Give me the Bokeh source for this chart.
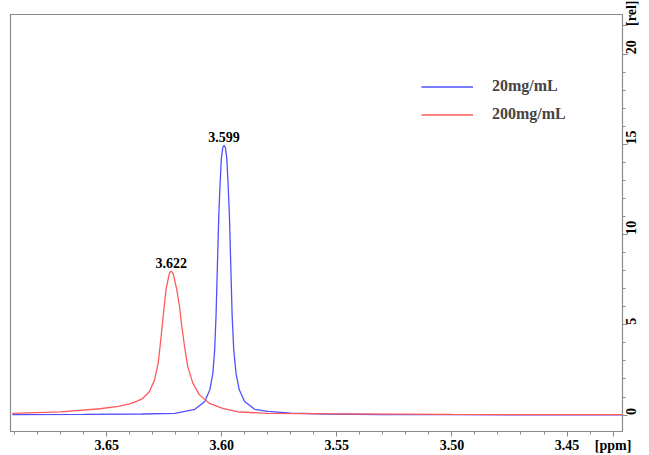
import math
from bokeh.plotting import figure
from bokeh.models import Range1d, FixedTicker, Legend, LegendItem, ColumnDataSource
from bokeh.core.properties import value
from bokeh.embed import file_html
from bokeh.resources import INLINE

# ---- data ----
blue_ppm = [3.691, 3.660, 3.6348, 3.6204, 3.6117, 3.6074, 3.6052, 3.6039, 3.6031, 3.6025,
            3.6019, 3.6013, 3.6007, 3.6002, 3.5996, 3.5990, 3.5984, 3.5978, 3.5973, 3.5967,
            3.5961, 3.5955, 3.5948, 3.5938, 3.5924, 3.5901, 3.5857, 3.580, 3.570, 3.555,
            3.530, 3.500, 3.450, 3.426]
blue_int = [0.02, 0.04, 0.06, 0.10, 0.32, 0.75, 1.4, 2.3, 3.6, 5.5,
            8.3, 11.1, 12.9, 14.2, 14.8, 14.95, 14.8, 14.2, 12.9, 11.1,
            8.3, 5.5, 3.6, 2.3, 1.4, 0.75, 0.32, 0.20, 0.11, 0.06,
            0.03, 0.02, 0.01, 0.01]

red_ppm = [3.691, 3.670, 3.653, 3.645, 3.640, 3.637, 3.6343, 3.6314, 3.6292, 3.6276,
           3.6265, 3.6253, 3.6242, 3.6230, 3.6226, 3.6220, 3.6214, 3.6209, 3.6196, 3.6184,
           3.6174, 3.6162, 3.6148, 3.6126, 3.6097, 3.6054, 3.5996, 3.5924, 3.580, 3.550,
           3.500, 3.450, 3.426]
red_int = [0.10, 0.18, 0.35, 0.48, 0.62, 0.76, 0.93, 1.31, 1.96, 2.89,
           4.19, 5.68, 6.98, 7.73, 7.90, 7.98, 7.90, 7.73, 6.98, 6.06,
           4.94, 3.82, 2.70, 1.77, 1.12, 0.65, 0.37, 0.17, 0.10, 0.07,
           0.04, 0.02, 0.02]

series_names = ["20mg/mL", "200mg/mL"]
peak_ppm = [3.599, 3.622]
peak_int = [14.95, 7.98]
peak_labels = ["3.599", "3.622"]

x_major = [3.65, 3.60, 3.55, 3.50, 3.45, 3.43]
x_labels = ["3.65", "3.60", "3.55", "3.50", "3.45", "[ppm]"]
x_minor = [3.69, 3.68, 3.67, 3.66, 3.64, 3.63, 3.62, 3.61, 3.59, 3.58, 3.57, 3.56,
           3.54, 3.53, 3.52, 3.51, 3.49, 3.48, 3.47, 3.46, 3.44]
y_major = [0, 5, 10, 15, 20, 21.6]
y_labels = ["0", "5", "10", "15", "20", "[rel]"]
y_minor = [1, 2, 3, 4, 6, 7, 8, 9, 11, 12, 13, 14, 16, 17, 18, 19]

BLUE = "#5050ff"
RED = "#ff5a5a"
GRAY = "#8a8a8a"
FONT = "Liberation Serif"

p = figure(width=649, height=455, output_backend="svg", toolbar_location=None,
           x_range=Range1d(3.6918, 3.4259), y_range=Range1d(-0.91, 22.2),
           y_axis_location="right", min_border_left=10, min_border_top=14,
           min_border_right=0, min_border_bottom=0)
p.xgrid.visible = False
p.ygrid.visible = False
p.outline_line_color = GRAY
p.outline_line_width = 1.2
p.background_fill_color = "white"
p.border_fill_color = "white"

xa = p.xaxis[0]
xa.ticker = FixedTicker(ticks=x_major, minor_ticks=x_minor)
xa.major_label_overrides = {t: s for t, s in zip(x_major, x_labels)}
ya = p.yaxis[0]
ya.ticker = FixedTicker(ticks=y_major, minor_ticks=y_minor)
ya.major_label_overrides = {t: s for t, s in zip(y_major, y_labels)}
for ax in (xa, ya):
    ax.axis_line_color = GRAY
    ax.major_tick_line_color = GRAY
    ax.minor_tick_line_color = GRAY
    ax.major_tick_in = 0
    ax.minor_tick_in = 0
    ax.major_tick_out = 5
    ax.minor_tick_out = 3
    ax.major_label_text_font = FONT
    ax.major_label_text_font_style = "bold"
    ax.major_label_text_font_size = "14px"
    ax.major_label_text_color = "black"
    ax.major_label_standoff = 1
ya.major_label_standoff = 4
ya.major_label_orientation = math.pi / 2

src_b = ColumnDataSource(dict(x=blue_ppm, y=blue_int))
src_r = ColumnDataSource(dict(x=red_ppm, y=red_int))
rb = p.line("x", "y", source=src_b, line_color=BLUE, line_width=1.3)
rr = p.line("x", "y", source=src_r, line_color=RED, line_width=1.3)

src_pk = ColumnDataSource(dict(x=peak_ppm, y=peak_int, t=peak_labels))
p.text("x", "y", text="t", source=src_pk, text_align="center", text_baseline="bottom",
       y_offset=-3, text_font=value(FONT), text_font_style="bold",
       text_font_size="14px", text_color="black")

legend = Legend(items=[LegendItem(label=series_names[0], renderers=[rb]),
                       LegendItem(label=series_names[1], renderers=[rr])],
                location=(411, 308), glyph_width=52, glyph_height=17, label_height=17,
                label_standoff=19, spacing=10, padding=0, margin=0,
                border_line_color=None, background_fill_alpha=0,
                label_text_font=FONT, label_text_font_style="bold",
                label_text_font_size="16px")
p.add_layout(legend, "center")

open("out.html", "w").write(file_html(p, INLINE))
